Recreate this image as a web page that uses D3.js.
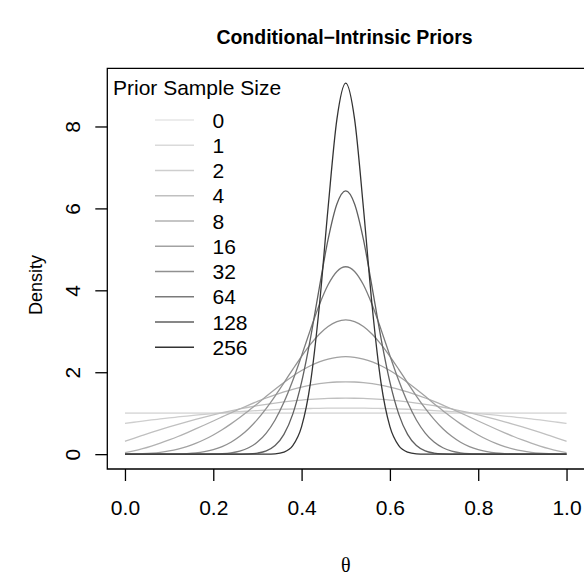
<!DOCTYPE html>
<html>
<head>
<meta charset="utf-8">
<script src="https://cdn.jsdelivr.net/npm/d3@7"></script>
<style>
  html, body { margin: 0; padding: 0; background: #fff; }
  svg { display: block; font-family: "Liberation Sans", Arial, Helvetica, sans-serif; }
</style>
</head>
<body>
<svg id="chart" width="584" height="576"></svg>
<script>
// ---------- data ----------
const theta = [0,0.02,0.04,0.06,0.08,0.10,0.12,0.14,0.16,0.18,0.20,0.22,0.24,0.26,0.28,0.30,0.32,0.34,0.36,0.38,0.40,0.42,0.44,0.46,0.48,0.50,
  0.52,0.54,0.56,0.58,0.60,0.62,0.64,0.66,0.68,0.70,0.72,0.74,0.76,0.78,0.80,0.82,0.84,0.86,0.88,0.90,0.92,0.94,0.96,0.98,1.00];

const sampleSizes = ["0","1","2","4","8","16","32","64","128","256"];

const n0 = [1,1,1,1,1,1,1,1,1,1,1,1,1,1,1,1,1,1,1,1,1,1,1,1,1,1,1,1,1,1,1,1,1,1,1,1,1,1,1,1,1,1,1,1,1,1,1,1,1,1,1];
const n1 = [1,1,1,1,1,1,1,1,1,1,1,1,1,1,1,1,1,1,1,1,1,1,1,1,1,1,1,1,1,1,1,1,1,1,1,1,1,1,1,1,1,1,1,1,1,1,1,1,1,1,1];
const n2 = [0.75,0.779,0.808,0.835,0.860,0.885,0.908,0.931,0.952,0.971,0.990,1.007,1.024,1.039,1.052,1.065,1.076,1.087,1.096,1.103,1.110,1.115,1.120,1.123,1.124,1.125,
  1.124,1.123,1.120,1.115,1.110,1.103,1.096,1.087,1.076,1.065,1.052,1.039,1.024,1.007,0.990,0.971,0.952,0.931,0.908,0.885,0.860,0.835,0.808,0.779,0.75];
const n4 = [0.313,0.387,0.459,0.530,0.599,0.665,0.729,0.791,0.850,0.907,0.961,1.011,1.059,1.103,1.145,1.183,1.217,1.248,1.276,1.300,1.321,1.337,1.350,1.360,1.365,1.367,
  1.365,1.360,1.350,1.337,1.321,1.300,1.276,1.248,1.217,1.183,1.145,1.103,1.059,1.011,0.961,0.907,0.850,0.791,0.729,0.665,0.599,0.530,0.459,0.387,0.313];
const n8 = [0.035,0.080,0.134,0.197,0.268,0.347,0.431,0.521,0.615,0.712,0.810,0.909,1.008,1.104,1.198,1.287,1.371,1.449,1.520,1.584,1.639,1.684,1.720,1.746,1.762,1.767,
  1.762,1.746,1.720,1.684,1.639,1.584,1.520,1.449,1.371,1.287,1.198,1.104,1.008,0.909,0.810,0.712,0.615,0.521,0.431,0.347,0.268,0.197,0.134,0.080,0.035];
const n16 = [0.000,0.003,0.010,0.023,0.045,0.078,0.124,0.185,0.263,0.357,0.469,0.596,0.739,0.894,1.062,1.231,1.413,1.586,1.751,1.904,2.041,2.158,2.253,2.322,2.365,2.379,
  2.365,2.322,2.253,2.158,2.041,1.904,1.751,1.586,1.413,1.231,1.062,0.894,0.739,0.596,0.469,0.357,0.263,0.185,0.124,0.078,0.045,0.023,0.010,0.003,0.000];
const n32 = [0,0,0,0,0.001,0.002,0.006,0.015,0.032,0.063,0.112,0.186,0.292,0.436,0.622,0.850,1.119,1.419,1.741,2.070,2.389,2.681,2.929,3.119,3.238,3.278,
  3.238,3.119,2.929,2.681,2.389,2.070,1.741,1.419,1.119,0.850,0.622,0.436,0.292,0.186,0.112,0.063,0.032,0.015,0.006,0.002,0.001,0,0,0,0];
const n64 = [0,0,0,0,0,0,0,0,0.000,0.001,0.005,0.013,0.033,0.075,0.156,0.295,0.515,0.835,1.265,1.797,2.405,3.041,3.640,4.135,4.461,4.575,
  4.461,4.135,3.640,3.041,2.405,1.797,1.265,0.835,0.515,0.295,0.156,0.075,0.033,0.013,0.005,0.001,0,0,0,0,0,0,0,0,0];
const n128 = [0,0,0,0,0,0,0,0,0,0,0,0,0.000,0.002,0.007,0.026,0.079,0.209,0.482,0.978,1.759,2.821,4.055,5.242,6.108,6.427,
  6.108,5.242,4.055,2.821,1.759,0.978,0.482,0.209,0.079,0.026,0.007,0.002,0,0,0,0,0,0,0,0,0,0,0,0,0];
const n256 = [0,0,0,0,0,0,0,0,0,0,0,0,0,0,0,0,0.001,0.009,0.050,0.207,0.671,1.734,3.593,6.016,8.179,9.058,
  8.179,6.016,3.593,1.734,0.671,0.207,0.050,0.009,0.001,0,0,0,0,0,0,0,0,0,0,0,0,0,0,0,0];

const xTicks = [0, 0.2, 0.4, 0.6, 0.8, 1.0];
const yTicks = [0, 2, 4, 6, 8];
const lineColors = ["#e6e6e6","#dadada","#cecece","#c0c0c0","#b2b2b2","#a2a2a2","#909090","#7a7a7a","#5f5f5f","#333333"];

const seriesValues = [n0, n1, n2, n4, n8, n16, n32, n64, n128, n256];

// ---------- layout ----------
const box = { left: 107.3, right: 584.2, top: 68.3, bottom: 469 };
const yMax = 9.058;
const x = d3.scaleLinear().domain([-0.04, 1.04]).range([box.left, box.right]);
const y = d3.scaleLinear().domain([-0.04 * yMax, 1.04 * yMax]).range([box.bottom, box.top]);

const svg = d3.select("#chart");
svg.append("rect").attr("width", 584).attr("height", 576).attr("fill", "#fff");

const fontSize = 21;

// curves
const line = d3.line()
  .x((d, i) => x(theta[i]))
  .y(d => y(d))
  .curve(d3.curveMonotoneX);

svg.append("g")
  .selectAll("path")
  .data(seriesValues)
  .join("path")
  .attr("d", d => line(d))
  .attr("fill", "none")
  .attr("stroke", (d, i) => lineColors[i])
  .attr("stroke-width", 1.3);

// box (right side falls at the image edge)
svg.append("path")
  .attr("d", `M${box.right + 2},${box.top}H${box.left}V${box.bottom}H${box.right + 2}`)
  .attr("fill", "none").attr("stroke", "#000").attr("stroke-width", 1.3);

// x axis
const gx = svg.append("g").attr("transform", `translate(0,${box.bottom})`)
  .call(d3.axisBottom(x).tickValues(xTicks).tickSize(12).tickFormat(d3.format(".1f")));
gx.select(".domain").remove();
gx.selectAll(".tick line").attr("stroke", "#000").attr("stroke-width", 1.3);
gx.selectAll(".tick text")
  .attr("y", 46).attr("dy", null)
  .attr("font-size", fontSize).attr("font-family", null).attr("fill", "#000");

// y axis
const gy = svg.append("g").attr("transform", `translate(${box.left},0)`)
  .call(d3.axisLeft(y).tickValues(yTicks).tickSize(12).tickFormat(d3.format("d")));
gy.select(".domain").remove();
gy.selectAll(".tick line").attr("stroke", "#000").attr("stroke-width", 1.3);
gy.selectAll(".tick text")
  .attr("x", null).attr("dy", null)
  .attr("transform", "translate(-27.5,0) rotate(-90)")
  .attr("text-anchor", "middle")
  .attr("font-size", fontSize).attr("font-family", null).attr("fill", "#000");

// title
svg.append("text")
  .attr("x", 344.5).attr("y", 44)
  .attr("text-anchor", "middle")
  .attr("font-size", 19.5).attr("font-weight", "bold")
  .text("Conditional\u2212Intrinsic Priors");

// x label
svg.append("text")
  .attr("x", (box.left + box.right) / 2).attr("y", 571.5)
  .attr("text-anchor", "middle")
  .attr("font-family", "'Liberation Serif', 'DejaVu Serif', serif")
  .attr("font-size", 20)
  .text("\u03B8");

// y label
svg.append("text")
  .attr("transform", `translate(42,285) rotate(-90)`)
  .attr("text-anchor", "middle")
  .attr("font-size", 18)
  .text("Density");

// legend
const legend = svg.append("g");
legend.append("text")
  .attr("x", 113).attr("y", 95)
  .attr("font-size", fontSize)
  .text("Prior Sample Size");
const rowY0 = 120, rowStep = 25.25;
const rows = legend.selectAll("g.row").data(sampleSizes).join("g")
  .attr("class", "row")
  .attr("transform", (d, i) => `translate(0,${rowY0 + i * rowStep})`);
rows.append("line")
  .attr("x1", 155).attr("x2", 194).attr("y1", 0).attr("y2", 0)
  .attr("stroke", (d, i) => lineColors[i]).attr("stroke-width", 1.3);
rows.append("text")
  .attr("x", 212.5).attr("y", 7.5)
  .attr("font-size", fontSize)
  .text(d => d);
</script>
</body>
</html>
